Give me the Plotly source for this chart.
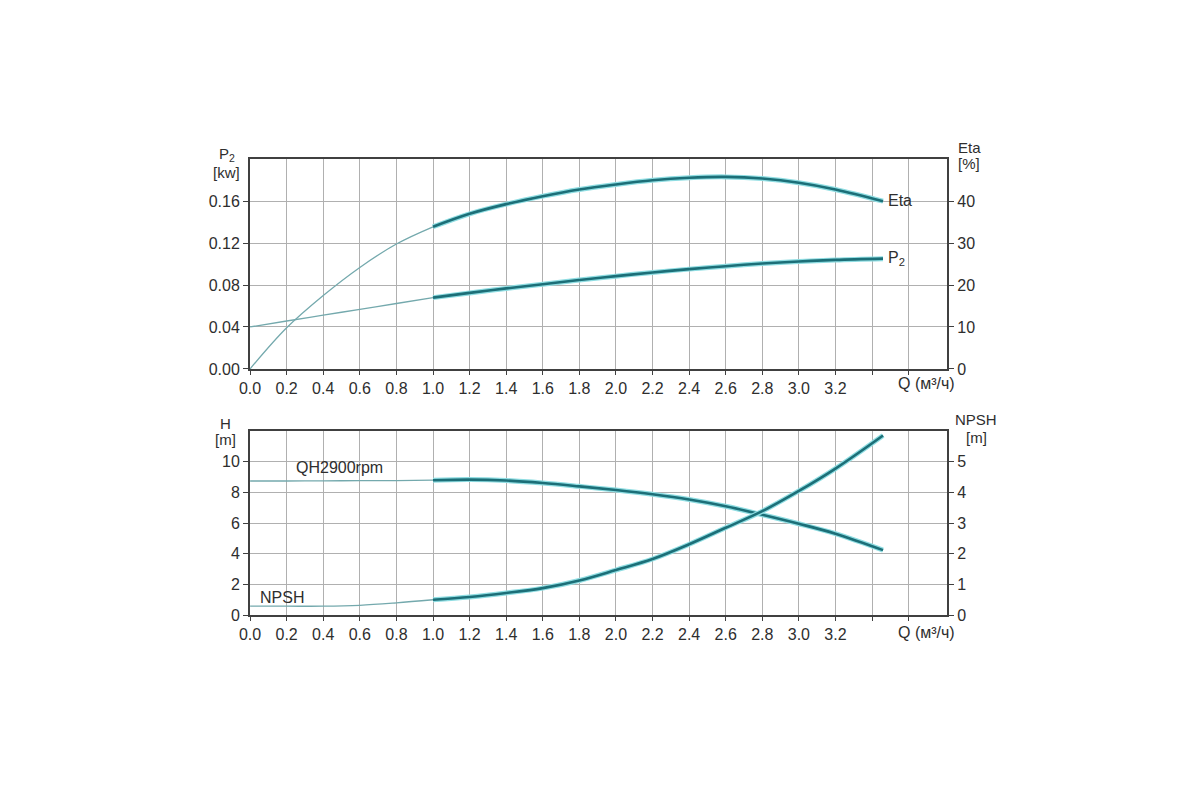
import plotly.graph_objects as go

# Q axis values, m3/h
q = [0.0, 0.2, 0.4, 0.6, 0.8, 1.0, 1.2, 1.4, 1.6, 1.8, 2.0, 2.2, 2.4, 2.6, 2.8, 3.0, 3.2, 3.46]

# top panel
eta = [0.0, 9.8, 17.5, 24.2, 29.8, 33.9, 37.0, 39.3, 41.2, 42.8, 44.0, 45.0, 45.6, 45.8, 45.4, 44.4, 42.8, 40.0]
p2 = [0.040, 0.0457, 0.0513, 0.0568, 0.0624, 0.068, 0.0725, 0.0768, 0.0808, 0.0848, 0.0885, 0.092, 0.0952, 0.098, 0.1005, 0.1025, 0.104, 0.1052]

# bottom panel
head = [8.75, 8.75, 8.76, 8.77, 8.78, 8.8, 8.84, 8.78, 8.62, 8.40, 8.16, 7.88, 7.54, 7.1, 6.55, 5.96, 5.31, 4.24]
npsh = [0.29, 0.29, 0.29, 0.32, 0.40, 0.50, 0.59, 0.72, 0.88, 1.13, 1.47, 1.83, 2.31, 2.85, 3.39, 4.05, 4.78, 5.86]

x_ticks = [0.0, 0.2, 0.4, 0.6, 0.8, 1.0, 1.2, 1.4, 1.6, 1.8, 2.0, 2.2, 2.4, 2.6, 2.8, 3.0, 3.2]
x_labels = ["0.0", "0.2", "0.4", "0.6", "0.8", "1.0", "1.2", "1.4", "1.6", "1.8",
            "2.0", "2.2", "2.4", "2.6", "2.8", "3.0", "3.2"]
x_unlabelled = [3.4, 3.6]
p2_ticks = [0.00, 0.04, 0.08, 0.12, 0.16]
p2_labels = ["0.00", "0.04", "0.08", "0.12", "0.16"]
eta_ticks = [0, 10, 20, 30, 40]
h_ticks = [0, 2, 4, 6, 8, 10]
npsh_ticks = [0, 1, 2, 3, 4, 5]

THIN = "#74a9ad"
THICK = "#1c6f78"
GLOW = "#8fdde2"
AXIS = "#404040"
GRID = "#b0b0b0"
TEXT = "#2e2e2e"
FONT = "Liberation Sans, Arial, sans-serif"

SPLIT = q.index(1.0)

fig = go.Figure()


def add_curve(fig, ys, xaxis, yaxis):
    # thin part before Q=1.0, thick with a light glow after
    fig.add_trace(go.Scatter(x=q[:SPLIT + 1], y=ys[:SPLIT + 1], mode="lines",
                             line=dict(color=THIN, width=1.3, shape="spline"),
                             xaxis=xaxis, yaxis=yaxis, showlegend=False, hoverinfo="skip"))
    fig.add_trace(go.Scatter(x=q[SPLIT:], y=ys[SPLIT:], mode="lines",
                             line=dict(color=GLOW, width=5, shape="spline"),
                             xaxis=xaxis, yaxis=yaxis, showlegend=False, hoverinfo="skip"))
    fig.add_trace(go.Scatter(x=q[SPLIT:], y=ys[SPLIT:], mode="lines",
                             line=dict(color=THICK, width=2.6, shape="spline"),
                             xaxis=xaxis, yaxis=yaxis, showlegend=False, hoverinfo="skip"))


add_curve(fig, eta, "x", "y2")
add_curve(fig, p2, "x", "y")
add_curve(fig, head, "x2", "y3")
add_curve(fig, npsh, "x2", "y4")

W, H = 1200, 800


# map wanted screen pixels to paper fractions (corrected for how the page renders)
def px_x(v):
    return ((v - 20.6) / 0.988) / W


def px_y(v):
    return 1 - (v - 4) / H


x_dom = [px_x(251), px_x(946)]
top_dom = [px_y(369), px_y(157)]
bot_dom = [px_y(618), px_y(432)]

tick_font = dict(family=FONT, size=16, color=TEXT)

xcommon = dict(range=[0, 3.81], tickvals=x_ticks, ticktext=x_labels, domain=x_dom,
               showgrid=True, gridcolor=GRID, gridwidth=1, showline=True, linecolor=AXIS,
               linewidth=2, ticks="outside", ticklen=4, tickcolor=AXIS, mirror=True,
               tickfont=tick_font, zeroline=False,
               minor=dict(tickvals=x_unlabelled, ticks="outside", ticklen=4, tickcolor=AXIS,
                          showgrid=True, gridcolor=GRID, gridwidth=1))
ycommon = dict(showgrid=True, gridcolor=GRID, gridwidth=1, showline=True, linecolor=AXIS,
               linewidth=2, ticks="outside", ticklen=5, tickcolor=AXIS, tickfont=tick_font,
               zeroline=False)
yright = dict(showgrid=False, showline=True, linecolor=AXIS, linewidth=2, ticks="outside",
              ticklen=5, tickcolor=AXIS, tickfont=tick_font, zeroline=False, side="right")

fig.update_layout(
    width=W, height=H,
    margin=dict(l=0, r=0, t=0, b=0),
    paper_bgcolor="white", plot_bgcolor="white",
    font=dict(family=FONT, size=16, color=TEXT),
    xaxis=dict(anchor="y", **xcommon),
    yaxis=dict(domain=top_dom, range=[0, 0.2], tickvals=p2_ticks, ticktext=p2_labels,
               anchor="x", **ycommon),
    yaxis2=dict(range=[0, 50], tickvals=eta_ticks, overlaying="y", anchor="x", **yright),
    xaxis2=dict(anchor="y3", **xcommon),
    yaxis3=dict(domain=bot_dom, range=[0, 12], tickvals=h_ticks, anchor="x2", **ycommon),
    yaxis4=dict(range=[0, 6], tickvals=npsh_ticks, overlaying="y3", anchor="x2", **yright),
)

notes = [
    ("P<sub>2</sub>", 228, 152, 15), ("[kw]", 228, 170, 15),
    ("Eta", 968, 145, 15), ("[%]", 968, 161, 15),
    ("H", 227, 424, 15), ("[m]", 227, 440, 15),
    ("NPSH", 975, 420, 15), ("[m]", 975, 438, 15),
    ("Q (м³/ч)", 926, 384, 16), ("Q (м³/ч)", 926, 636, 16),
    ("Eta", 899, 199, 16), ("P<sub>2</sub>", 896, 257, 16),
    ("QH2900rpm", 340, 469, 16), ("NPSH", 283, 600, 16),
]
for text, px, py, size in notes:
    fig.add_annotation(text=text, x=px_x(px), y=px_y(py), xref="paper", yref="paper",
                       showarrow=False, xanchor="center", yanchor="middle",
                       font=dict(family=FONT, size=size, color=TEXT))

fig.write_html("out.html")
